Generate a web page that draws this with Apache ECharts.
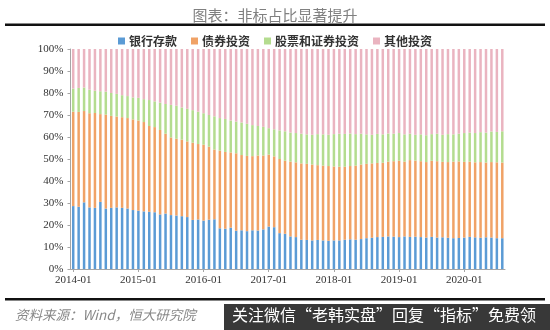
<!DOCTYPE html>
<html>
<head>
<meta charset="utf-8">
<script src="https://cdn.jsdelivr.net/npm/echarts@6/dist/echarts.min.js"></script>
<style>
  html, body { margin: 0; padding: 0; background: #fff; }
  #chart { width: 550px; height: 330px; }
</style>
</head>
<body>
<div id="chart"></div>
<script>
// Monthly asset allocation shares (%), 2014-01 .. 2020-08
const startYear = 2014, startMonth = 1, monthCount = 80;
const months = [];
for (let k = 0; k < monthCount; k++) {
  const y = startYear + Math.floor((startMonth - 1 + k) / 12);
  const m = ((startMonth - 1 + k) % 12) + 1;
  months.push(y + '-' + (m < 10 ? '0' + m : m));
}

const seriesNames = ['银行存款', '债券投资', '股票和证券投资', '其他投资'];

const bankDeposits = [
  28.6, 28.3, 30.3, 28.0, 27.8, 30.5, 27.5, 27.8, 28.0, 27.8, 27.5, 26.8,
  26.5, 26.2, 26.0, 25.8, 24.8, 25.2, 24.5, 24.3, 24.0, 23.6, 22.3, 22.5,
  22.0, 22.4, 22.6, 18.5, 18.3, 18.8, 17.4, 17.6, 17.2, 17.6, 17.5, 18.0,
  19.3, 19.0, 16.3, 16.0, 14.8, 14.5, 13.3, 13.2, 13.0, 13.2, 13.0, 12.8,
  13.0, 13.0, 13.3, 13.5, 13.3, 13.6, 14.0, 14.2, 14.5, 14.6, 14.8, 14.7,
  14.5, 14.8, 14.6, 14.7, 14.5, 14.3, 14.6, 14.3, 14.4, 14.2, 14.0, 14.1,
  14.3, 14.6, 14.4, 14.2, 14.4, 14.3, 14.0, 14.0
];
const bondInvest = [
  42.9, 43.1, 41.5, 42.8, 43.1, 39.9, 42.7, 41.8, 41.3, 41.2, 41.1, 41.2,
  41.0, 40.6, 39.0, 38.7, 38.4, 36.3, 35.3, 34.9, 34.8, 34.4, 35.1, 34.3,
  34.5, 33.2, 31.7, 35.3, 34.9, 34.2, 35.2, 34.2, 34.2, 33.7, 34.1, 33.6,
  32.7, 32.2, 33.7, 33.2, 34.0, 34.0, 34.7, 34.6, 34.5, 34.0, 34.0, 34.0,
  33.6, 33.5, 33.2, 33.3, 33.7, 33.9, 33.8, 33.8, 33.7, 33.7, 34.0, 34.3,
  34.7, 34.0, 34.9, 34.6, 34.5, 34.3, 34.6, 34.7, 34.3, 34.4, 34.8, 34.8,
  34.4, 34.2, 34.1, 34.4, 34.0, 34.3, 34.5, 34.4
];
const stockInvest = [
  10.5, 10.9, 10.7, 10.7, 10.1, 10.4, 10.4, 10.4, 10.3, 10.0, 10.0, 10.0,
  10.3, 10.4, 11.8, 11.7, 12.4, 13.5, 14.8, 15.0, 14.6, 14.8, 14.8, 14.7,
  14.3, 14.4, 15.1, 14.8, 15.0, 14.5, 14.4, 14.8, 14.6, 14.1, 13.4, 13.0,
  12.0, 12.3, 13.0, 13.4, 13.2, 13.3, 13.5, 13.4, 13.5, 14.1, 14.2, 14.2,
  14.7, 15.0, 14.9, 14.8, 14.3, 14.0, 13.4, 13.0, 13.2, 12.9, 12.8, 12.5,
  12.6, 12.4, 12.0, 11.7, 12.2, 12.2, 12.1, 12.5, 12.3, 12.7, 12.4, 12.6,
  13.1, 13.2, 13.3, 13.6, 13.6, 13.9, 13.8, 14.2
];
const otherInvest = [
  18.0, 17.7, 17.5, 18.5, 19.0, 19.2, 19.4, 20.0, 20.4, 21.0, 21.4, 22.0,
  22.2, 22.8, 23.2, 23.8, 24.4, 25.0, 25.4, 25.8, 26.6, 27.2, 27.8, 28.5,
  29.2, 30.0, 30.6, 31.4, 31.8, 32.5, 33.0, 33.4, 34.0, 34.6, 35.0, 35.4,
  36.0, 36.5, 37.0, 37.4, 38.0, 38.2, 38.5, 38.8, 39.0, 38.7, 38.8, 39.0,
  38.7, 38.5, 38.6, 38.4, 38.7, 38.5, 38.8, 39.0, 38.6, 38.8, 38.4, 38.5,
  38.2, 38.8, 38.5, 39.0, 38.8, 39.2, 38.7, 38.5, 39.0, 38.7, 38.8, 38.5,
  38.2, 38.0, 38.2, 37.8, 38.0, 37.5, 37.7, 37.4
];

const colors = ['#5b9bd5', '#f0a266', '#b4dc8f', '#eab4c0'];
const seriesData = [bankDeposits, bondInvest, stockInvest, otherInvest];

const serif = '"Liberation Serif", "DejaVu Serif", serif';
const cjk = '"Noto Sans CJK SC", sans-serif';

const chart = echarts.init(document.getElementById('chart'), null, { renderer: 'canvas' });
chart.setOption({
  animation: false,
  backgroundColor: '#fff',
  color: colors,
  title: {
    text: '图表：非标占比显著提升',
    left: 'center',
    top: 3,
    textStyle: { fontFamily: cjk, fontSize: 15, fontWeight: 'normal', color: '#808080' }
  },
  legend: {
    data: seriesNames,
    top: 30,
    left: 'center',
    itemWidth: 7,
    itemHeight: 7,
    itemGap: 14,
    icon: 'rect',
    textStyle: { fontFamily: cjk, fontSize: 12, fontWeight: 'bold', color: '#333', padding: [0, 0, 0, -1] }
  },
  grid: { left: 70.5, right: 45, top: 49, bottom: 61, containLabel: false },
  xAxis: {
    type: 'category',
    data: months,
    boundaryGap: true,
    axisLine: { lineStyle: { color: '#a6a6a6', width: 1 } },
    axisTick: { show: true, interval: 11, alignWithLabel: true, length: 3, lineStyle: { color: '#a6a6a6' } },
    axisLabel: { interval: 11, margin: 6, fontFamily: serif, fontSize: 11, color: '#333' },
    splitLine: { show: false }
  },
  yAxis: {
    type: 'value',
    min: 0,
    max: 100,
    interval: 10,
    axisLine: { show: true, lineStyle: { color: '#a6a6a6', width: 1 } },
    axisTick: { show: true, length: 3, lineStyle: { color: '#a6a6a6' } },
    axisLabel: { formatter: '{value}%', margin: 7, fontFamily: serif, fontSize: 11, color: '#333' },
    splitLine: { show: false }
  },
  series: seriesNames.map((name, i) => ({
    name: name,
    type: 'bar',
    stack: 'share',
    barWidth: '46%',
    data: seriesData[i],
    itemStyle: { color: colors[i] }
  })),
  graphic: [
    { type: 'rect', shape: { x: 5, y: 23.5, width: 540, height: 2.5 }, style: { fill: '#111' } },
    { type: 'rect', shape: { x: 5, y: 298, width: 540, height: 2.5 }, style: { fill: '#111' } },
    {
      type: 'text', left: 15, top: 308,
      style: { text: '资料来源：Wind，恒大研究院', fontFamily: cjk, fontStyle: 'italic', fontSize: 13.5, fill: '#888' }
    },
    { type: 'rect', shape: { x: 224, y: 304, width: 326, height: 26 }, style: { fill: '#383838' } },
    {
      type: 'text', left: 232, top: 307,
      style: { text: '关注微信“老韩实盘”回复“指标”免费领', fontFamily: cjk, fontSize: 16, fill: '#fff' }
    }
  ]
});
</script>
</body>
</html>
